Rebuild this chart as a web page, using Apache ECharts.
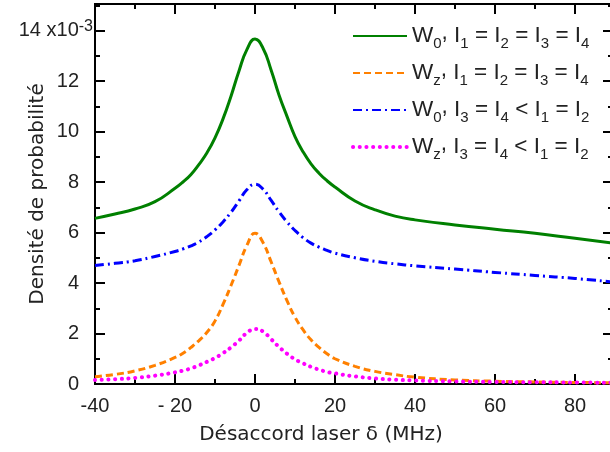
<!DOCTYPE html>
<html><head><meta charset="utf-8">
<script src="https://cdn.jsdelivr.net/npm/echarts@6/dist/echarts.min.js"></script>
<style>html,body{margin:0;padding:0;background:#fff}#c{width:610px;height:452px}</style>
</head><body><div id="c"></div>
<script>
// Detuning (MHz)
const detuning = [-40,-35,-30,-25,-20,-18,-16,-14,-12,-10,-8,-6,-4,-2,0,2,4,6,8,10,12,14,16,18,20,25,30,35,40,50,60,70,80,89.5];
// Probability densities (x10^-3)
const w0Equal   = [6.56,6.73,6.93,7.22,7.75,8.0,8.3,8.7,9.16,9.75,10.5,11.4,12.4,13.25,13.66,13.3,12.45,11.45,10.6,9.8,9.2,8.72,8.35,8.05,7.8,7.25,6.9,6.65,6.5,6.3,6.13,5.97,5.77,5.58];
const wzEqual   = [0.29,0.38,0.52,0.74,1.05,1.22,1.45,1.72,2.05,2.5,3.15,3.9,4.7,5.5,5.97,5.6,4.85,4.05,3.3,2.65,2.15,1.75,1.45,1.2,1.0,0.7,0.5,0.37,0.27,0.16,0.11,0.08,0.06,0.05];
const w0Unequal = [4.69,4.78,4.88,5.05,5.25,5.35,5.47,5.63,5.84,6.1,6.42,6.8,7.25,7.7,7.91,7.72,7.28,6.82,6.42,6.08,5.8,5.58,5.42,5.29,5.18,5.0,4.86,4.76,4.68,4.55,4.42,4.3,4.18,4.04];
const wzUnequal = [0.16,0.19,0.24,0.33,0.46,0.53,0.62,0.74,0.88,1.03,1.22,1.45,1.72,2.03,2.18,2.08,1.78,1.47,1.2,0.98,0.82,0.68,0.57,0.48,0.42,0.3,0.22,0.17,0.14,0.1,0.08,0.07,0.06,0.05];
const xTickLabels = {'-40':'-40','-20':'- 20','0':'0','20':'20','40':'40','60':'60','80':'80'};
const yTickLabels = ['0','2','4','6','8','10','12','14'];
const seriesNames = ['W0 eq','Wz eq','W0 uneq','Wz uneq'];
const legendTexts = {
  'W0 eq':   '{m|W}{s|0}{c|,}{m| I}{s|1}{m| = I}{s|2}{m| = I}{s|3}{m| = I}{s|4}',
  'Wz eq':   '{m|W}{s|z}{c|,}{m| I}{s|1}{m| = I}{s|2}{m| = I}{s|3}{m| = I}{s|4}',
  'W0 uneq': '{m|W}{s|0}{c|,}{m| I}{s|3}{m| = I}{s|4}{m| < I}{s|1}{m| = I}{s|2}',
  'Wz uneq': '{m|W}{s|z}{c|,}{m| I}{s|3}{m| = I}{s|4}{m| < I}{s|1}{m| = I}{s|2}'
};
const xName = 'Désaccord laser δ (MHz)';
const yName = 'Densité de probabilité';

const pair = arr => detuning.map((x,i)=>[x,arr[i]]);
const BK = '#000';
const XMIN=-40, XMAX=89.5, YMIN=0, YMAX=15.05;
function xAx(pos, interval, len, labels){
  const a = {type:'value', position:pos, min:XMIN, max:XMAX, interval:interval,
    axisLine:{show:true,onZero:false,lineStyle:{color:BK,width:2}},
    axisTick:{show:true,inside:true,length:len,lineStyle:{color:BK,width:2}},
    splitLine:{show:false}, axisLabel:{show:false}};
  if(labels){
    a.axisLabel = {show:true, margin:12, fontFamily:'Liberation Sans', fontSize:20, color:'#222',
      formatter: v => (xTickLabels[String(v)] !== undefined ? xTickLabels[String(v)] : '')};
    a.name = xName; a.nameLocation='middle'; a.nameGap=41; a.nameMoveOverlap=false;
    a.nameTextStyle = {fontFamily:'DejaVu Sans', fontSize:20, color:'#222', padding:[0,66,0,0]};
  }
  return a;
}
function yAx(pos, interval, len, labels){
  const a = {type:'value', position:pos, min:YMIN, max:YMAX, interval:interval,
    axisLine:{show:true,onZero:false,lineStyle:{color:BK,width:2}},
    axisTick:{show:true,inside:true,length:len,lineStyle:{color:BK,width:2}},
    splitLine:{show:false}, axisLabel:{show:false}};
  if(labels){
    a.axisLabel = {show:true, margin:2, fontFamily:'Liberation Sans', fontSize:20, color:'#222',
      formatter: v => {
        const s = String(v);
        if (yTickLabels.indexOf(s) < 0) return '';
        if (s === '14') return '{m|14 x10}{sup|-3}';
        return '{m|' + s + '}{sp|}';
      },
      rich:{
        m:{fontFamily:'Liberation Sans', fontSize:20, color:'#222', lineHeight:24},
        sup:{fontFamily:'Liberation Sans', fontSize:16, color:'#222', lineHeight:15, verticalAlign:'top'},
        sp:{width:14}
      }};
    a.name = yName; a.nameLocation='middle'; a.nameGap=47; a.nameMoveOverlap=false;
    a.nameTextStyle = {fontFamily:'DejaVu Sans', fontSize:20, color:'#222'};
  }
  return a;
}
const chart = echarts.init(document.getElementById('c'), null, {renderer:'canvas'});
const mk = (name, data, color, width, type, cap) => ({
  name, type:'line', xAxisIndex:0, yAxisIndex:0, data:pair(data), showSymbol:false, symbol:'none',
  smooth:0.5, animation:false, lineStyle:{color, width, type, cap:cap||'butt'}, itemStyle:{color}
});
chart.setOption({
  animation:false,
  backgroundColor:'#fff',
  grid:{left:95, right:-3, top:4, bottom:68, containLabel:false, outerBoundsMode:'none'},
  xAxis:[xAx('bottom',20,10,true), xAx('bottom',10,5,false), xAx('top',20,10,false), xAx('top',10,5,false)],
  yAxis:[yAx('left',2,10,true), yAx('left',1,5,false), yAx('right',2,10,false), yAx('right',1,5,false)],
  legend:{
    show:true, orient:'vertical', left:351, top:21, padding:0, itemWidth:54, itemHeight:14, itemGap:7,
    data:[seriesNames[0], seriesNames[1], seriesNames[2],
      {name:seriesNames[3], lineStyle:{cap:'round', width:4, type:[0.1,6.6], color:'#FF00FF'}}],
    selectedMode:false,
    itemStyle:{color:'rgba(0,0,0,0)', borderColor:'rgba(0,0,0,0)', borderWidth:0, opacity:0},
    formatter: n => legendTexts[n],
    textStyle:{ color:'#222', fontFamily:'Liberation Sans',
      rich:{
        m:{fontFamily:'Liberation Sans', fontSize:22.5, color:'#222', lineHeight:30, verticalAlign:'middle'},
        s:{fontFamily:'Liberation Sans', fontSize:15, color:'#222', lineHeight:18, verticalAlign:'bottom'},
        c:{fontFamily:'Liberation Sans', fontSize:22.5, color:'#222', lineHeight:12, verticalAlign:'top'}
      }}
  },
  series:[
    mk(seriesNames[0], w0Equal, '#008000', 3, 'solid'),
    mk(seriesNames[1], wzEqual, '#FF8000', 3, [7,4]),
    mk(seriesNames[2], w0Unequal, '#0000FF', 3, [9,4,2,4]),
    mk(seriesNames[3], wzUnequal, '#FF00FF', 4, [0.1,6.6], 'round')
  ]
});
</script></body></html>
